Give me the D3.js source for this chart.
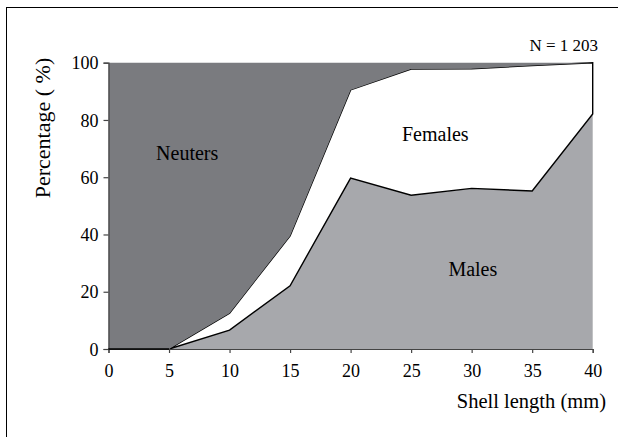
<!DOCTYPE html>
<html>
<head>
<meta charset="utf-8">
<script src="https://cdn.jsdelivr.net/npm/d3@7"></script>
</head>
<body style="margin:0; background:#fff">
<div id="grafico"></div>
<script>
// datos (porcentaje por talla)
var tallas = [0, 5, 10, 15, 20, 25, 30, 35, 40];
var machos = [0, 0, 6.6, 22.1, 59.7, 53.7, 56.1, 55.2, 82.1];
var hembras = [0, 0, 5.9, 17.4, 30.8, 44.1, 41.8, 43.8, 17.9];
var neutros = [100, 100, 87.5, 60.5, 9.5, 2.2, 2.1, 1.0, 0];
var ticksX = [0, 5, 10, 15, 20, 25, 30, 35, 40];
var ticksY = [0, 20, 40, 60, 80, 100];

var datos = tallas.map(function(t, i) {
  return { talla: t, Males: machos[i], Females: hembras[i], Neuters: neutros[i] };
});

var fuente = "'Liberation Serif'";
var width = 618, height = 437;
var svg = d3.select("#grafico").append("svg")
  .attr("width", width)
  .attr("height", height)
  .style("display", "block");

// marco exterior
svg.append("rect")
  .attr("x", 6.5).attr("y", 7.5)
  .attr("width", 640).attr("height", 460)
  .attr("fill", "none")
  .attr("stroke", "#000")
  .attr("stroke-width", 1);

var x = d3.scaleLinear().domain([0, 40]).range([108.5, 592.7]);
var y = d3.scaleLinear().domain([0, 100]).range([349, 62.7]);

var claves = ["Males", "Females", "Neuters"];
var colores = { Males: "#a7a8ac", Females: "#ffffff", Neuters: "#7a7b7f" };
var series = d3.stack().keys(claves)(datos);

var area = d3.area()
  .x(function(d) { return x(d.data.talla); })
  .y0(function(d) { return y(d[0]); })
  .y1(function(d) { return y(d[1]); });

svg.append("g")
  .selectAll("path")
  .data(series)
  .enter().append("path")
  .attr("d", area)
  .attr("fill", function(d) { return colores[d.key]; })
  .attr("stroke", function(d) { return d.key == "Females" ? "#000" : "none"; })
  .attr("stroke-width", 1.4)
  .attr("stroke-linejoin", "miter");

// ejes
var ejeX = svg.append("g")
  .attr("transform", "translate(0," + y(0) + ")")
  .call(d3.axisBottom(x).tickValues(ticksX).tickSize(4).tickPadding(11));
var ejeY = svg.append("g")
  .attr("transform", "translate(" + x(0) + ",0)")
  .call(d3.axisLeft(y).tickValues(ticksY).tickSize(5).tickPadding(5));

[ejeX, ejeY].forEach(function(e) {
  e.attr("font-family", null).attr("font-size", null);
  e.select(".domain").attr("stroke", "#444").attr("stroke-width", 1.2);
  e.selectAll(".tick line").attr("stroke", "#444").attr("stroke-width", 1.2);
  e.selectAll("text")
    .style("font-family", fuente)
    .style("font-size", "18px")
    .attr("fill", "#000");
});
ejeY.selectAll("text").attr("dy", "0.34em");

// linea base entre 0 y 5 (zona sin machos ni hembras)
svg.append("line")
  .attr("x1", x(0)).attr("x2", x(5))
  .attr("y1", y(0)).attr("y2", y(0))
  .attr("stroke", "#000").attr("stroke-width", 1.6);

// titulos de ejes
svg.append("text")
  .attr("transform", "translate(50,128) rotate(-90)")
  .attr("text-anchor", "middle")
  .style("font-family", fuente)
  .style("font-size", "22px")
  .text("Percentage ( %)");

svg.append("text")
  .attr("x", 606)
  .attr("y", 408)
  .attr("text-anchor", "end")
  .style("font-family", fuente)
  .style("font-size", "20.5px")
  .text("Shell length (mm)");

svg.append("text")
  .attr("x", 598)
  .attr("y", 51)
  .attr("text-anchor", "end")
  .style("font-family", fuente)
  .style("font-size", "17px")
  .text("N = 1 203");

// etiquetas de zonas
var etiquetas = [
  { texto: "Neuters", t: 6.5, v: 66 },
  { texto: "Females", t: 27, v: 72.6 },
  { texto: "Males", t: 30.1, v: 25.5 }
];
svg.append("g")
  .selectAll("text")
  .data(etiquetas)
  .enter().append("text")
  .attr("x", function(d) { return x(d.t); })
  .attr("y", function(d) { return y(d.v); })
  .attr("text-anchor", "middle")
  .style("font-family", fuente)
  .style("font-size", "20px")
  .text(function(d) { return d.texto; });
</script>
</body>
</html>
